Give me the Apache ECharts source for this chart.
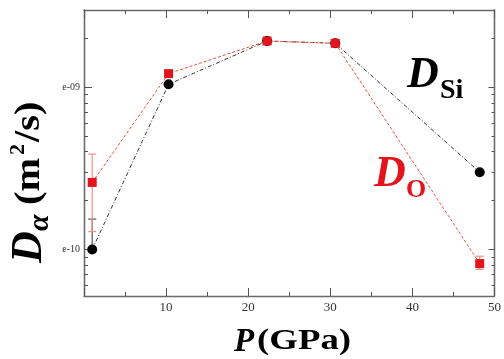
<!DOCTYPE html>
<html>
<head>
<meta charset="utf-8">
<script src="https://cdn.jsdelivr.net/npm/echarts@6/dist/echarts.min.js"></script>
<style>
  html, body { margin: 0; padding: 0; background: #fff; }
  #chart { width: 504px; height: 359px; }
</style>
</head>
<body>
<div id="chart"></div>
<script>
// Diffusion coefficients vs pressure (log scale)
const pressure = [1, 10.3, 22.3, 30.6, 48.2];
const dSi      = [1.0e-10, 1.04e-9, 1.92e-9, 1.86e-9, 2.99e-10];
const dO       = [2.59e-10, 1.21e-9, 1.92e-9, 1.86e-9, 8.2e-11];

// error bars: [pressure, low, high]
const dSiErr = [[1, 0.97e-10, 1.54e-10]];
const dOErr  = [[1, 1.29e-10, 3.87e-10], [48.2, 7.55e-11, 9.1e-11]];

const xTicks      = [10, 20, 30, 40, 50];
const yMajorTicks = [1e-9, 1e-10];
const yMinorTicks = [2e-9, 9e-10, 8e-10, 7e-10, 6e-10, 5e-10, 4e-10, 3e-10, 2e-10,
                     9e-11, 8e-11, 7e-11, 6e-11];
const yLabels     = ['e-09', 'e-10'];

const FONT = '"Liberation Serif", "DejaVu Serif", serif';
const AXIS_GRAY = '#6a6a6a';

const chart = echarts.init(document.getElementById('chart'));

const yMin = 5.18e-11, yMax = 2.98e-9;

const yAxisBase = (position, ticks, len, labels) => ({
  type: 'log',
  logBase: 10,
  min: yMin,
  max: yMax,
  position,
  axisLine: { show: true, lineStyle: { color: AXIS_GRAY, width: 1.3 } },
  axisTick: { show: true, inside: true, length: len, customValues: ticks,
              lineStyle: { color: '#555', width: 1 } },
  minorTick: { show: false },
  splitLine: { show: false },
  axisLabel: labels ? {
    show: true, customValues: labels, margin: 4,
    fontFamily: FONT, fontSize: 10, color: '#333',
    formatter: (v) => (v > 5e-10 ? yLabels[0] : yLabels[1]),
  } : { show: false },
});

const xAxisBase = (position, showLabel) => ({
  type: 'value',
  min: 0,
  max: 50,
  interval: 10,
  position,
  axisLine: { show: true, lineStyle: { color: AXIS_GRAY, width: 1.3 } },
  axisTick: { show: true, inside: true, length: 8, lineStyle: { color: '#555' } },
  minorTick: { show: true, splitNumber: 2, length: 4, lineStyle: { color: '#555' } },
  splitLine: { show: false },
  axisLabel: showLabel ? {
    show: true, margin: 5, fontFamily: FONT, fontSize: 13, color: '#333',
    showMinLabel: false,
    formatter: (v) => xTicks.includes(v) ? String(v) : '',
  } : { show: false },
});

const errRender = (color) => (params, api) => {
  const x = api.value(0);
  const lo = api.coord([x, api.value(1)]);
  const hi = api.coord([x, api.value(2)]);
  const w = 4;
  const style = { stroke: color, lineWidth: 1.2 };
  return {
    type: 'group',
    children: [
      { type: 'line', shape: { x1: lo[0], y1: lo[1], x2: hi[0], y2: hi[1] }, style },
      { type: 'line', shape: { x1: lo[0] - w, y1: lo[1], x2: lo[0] + w, y2: lo[1] }, style },
      { type: 'line', shape: { x1: hi[0] - w, y1: hi[1], x2: hi[0] + w, y2: hi[1] }, style },
    ],
  };
};

const txt = (text, x, y, size, color, italic, extra) => Object.assign({
  type: 'text',
  x, y,
  style: {
    text,
    fill: color,
    font: `${italic ? 'italic ' : ''}bold ${size}px ${FONT}`,
    verticalAlign: 'middle',
    align: 'left',
  },
}, extra || {});

chart.setOption({
  animation: false,
  backgroundColor: '#fff',
  grid: { left: 84, right: 8.5, top: 10, bottom: 63 },
  xAxis: [xAxisBase('bottom', true), xAxisBase('top', false)],
  yAxis: [
    yAxisBase('left', yMinorTicks, 4, null),
    yAxisBase('left', yMajorTicks, 8, yMajorTicks),
    yAxisBase('right', yMinorTicks, 3, null),
    yAxisBase('right', yMajorTicks, 6, null),
  ],
  series: [
    {
      type: 'line', name: 'DSi', yAxisIndex: 0,
      data: pressure.map((p, i) => [p, dSi[i]]),
      lineStyle: { color: '#333', width: 1, type: [4, 2, 1, 2] },
      symbol: 'circle', symbolSize: 10,
      itemStyle: { color: '#000' },
      z: 2,
    },
    {
      type: 'custom', name: 'DSi err', yAxisIndex: 0,
      data: dSiErr, renderItem: errRender('#555'), z: 1,
    },
    {
      type: 'custom', name: 'DO err', yAxisIndex: 0,
      data: dOErr, renderItem: errRender('#f29080'), z: 3,
    },
    {
      type: 'line', name: 'DO', yAxisIndex: 0,
      data: pressure.map((p, i) => [p, dO[i]]),
      lineStyle: { color: '#f0503c', width: 1, type: [3, 2] },
      symbol: 'rect', symbolSize: 9,
      itemStyle: { color: '#e3141c' },
      z: 4,
    },
  ],
  graphic: [
    // x axis title
    txt('P', 234, 342, 33, '#000', true),
    txt('(GPa)', 257, 342, 29, '#000', false, { scaleX: 1.27 }),
    // y axis title, rotated
    {
      type: 'group', x: 34, y: 263, rotation: Math.PI / 2,
      children: [
        txt('D', 0, -4, 44, '#000', true),
        txt('α', 32, 6, 30, '#000', true),
        txt('(m', 58, -4, 36, '#000', false, { scaleX: 1.12 }),
        txt('2', 108, -16, 22, '#000', false),
        txt('/s)', 121, -4, 36, '#000', false, { scaleX: 1.12 }),
      ],
    },
    // series labels
    txt('D', 407, 76, 44, '#000', true),
    txt('Si', 440, 91, 28, '#000', false),
    txt('D', 374, 175, 44, '#e3141c', true),
    txt('O', 406, 190, 26, '#e3141c', false),
  ],
});
</script>
</body>
</html>
